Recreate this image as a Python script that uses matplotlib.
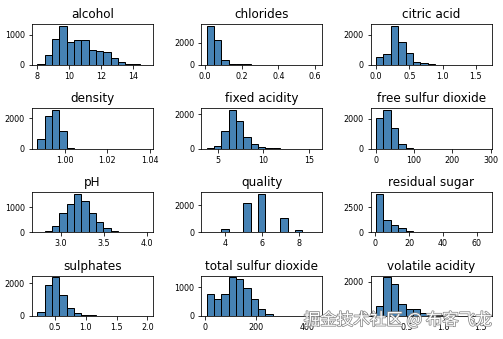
import matplotlib.pyplot as plt
import matplotlib.patheffects as pe
from matplotlib.ticker import MultipleLocator
import numpy as np

# wine quality features (red + white), 15 bins per column
columns = ['alcohol', 'chlorides', 'citric acid', 'density', 'fixed acidity',
           'free sulfur dioxide', 'pH', 'quality', 'residual sugar',
           'sulphates', 'total sulfur dioxide', 'volatile acidity']

col_min = [8.0, 0.009, 0.0, 0.98711, 3.8, 1.0, 2.72, 3.0, 0.6, 0.22, 6.0, 0.08]
col_max = [14.9, 0.611, 1.66, 1.03898, 15.9, 289.0, 4.01, 9.0, 65.8, 2.0, 440.0, 1.58]

bin_counts = [
    [30, 315, 837, 1270, 739, 804, 804, 489, 446, 413, 217, 98, 25, 18, 8],
    [3515, 2242, 424, 110, 60, 50, 20, 15, 10, 8, 6, 5, 4, 3, 2],
    [550, 720, 2560, 1500, 780, 200, 120, 50, 8, 4, 2, 0, 0, 0, 1],
    [600, 2150, 2522, 1160, 12, 2, 0, 0, 0, 0, 0, 0, 0, 0, 1],
    [10, 160, 1000, 2250, 1620, 650, 280, 100, 50, 40, 0, 0, 0, 0, 1],
    [2022, 2578, 1356, 289, 10, 0, 0, 0, 0, 0, 0, 0, 0, 0, 1],
    [5, 53, 250, 750, 1132, 1526, 1250, 776, 421, 184, 66, 26, 6, 2, 1],
    [30, 0, 216, 0, 0, 2138, 0, 2836, 0, 0, 1079, 0, 193, 0, 5],
    [3867, 1267, 767, 467, 100, 10, 3, 1, 0, 0, 0, 0, 0, 0, 1],
    [224, 1878, 2367, 1265, 490, 163, 61, 40, 10, 6, 4, 3, 2, 1, 2],
    [759, 586, 759, 1345, 1287, 966, 586, 253, 69, 10, 3, 1, 0, 0, 1],
    [585, 2264, 1849, 717, 434, 434, 150, 100, 50, 20, 8, 4, 2, 1, 1],
]

fig, axes = plt.subplots(4, 3, figsize=(503 / 72, 339 / 72), dpi=72)
fig.subplots_adjust(left=0.063, right=0.978, bottom=0.068, top=0.928,
                    wspace=0.397, hspace=1.07)

for ax, name, lo, hi, counts in zip(axes.flat, columns, col_min, col_max, bin_counts):
    edges = np.linspace(lo, hi, 16)
    ax.hist(edges[:-1], bins=edges, weights=counts, color='steelblue',
            edgecolor='black', linewidth=1.0)
    ax.set_title(name, fontsize=12)
    ax.tick_params(labelsize=8)

axes[3, 1].xaxis.set_major_locator(MultipleLocator(200))

fig.text(0.978, 0.055, '掘金技术社区 @ 布客飞龙', ha='right', va='center',
         fontsize=16.5, color='white', family=['Noto Sans CJK SC', 'DejaVu Sans'],
         path_effects=[pe.withStroke(linewidth=1.5, foreground='#888888')])

fig.savefig('out.png', dpi=72)
